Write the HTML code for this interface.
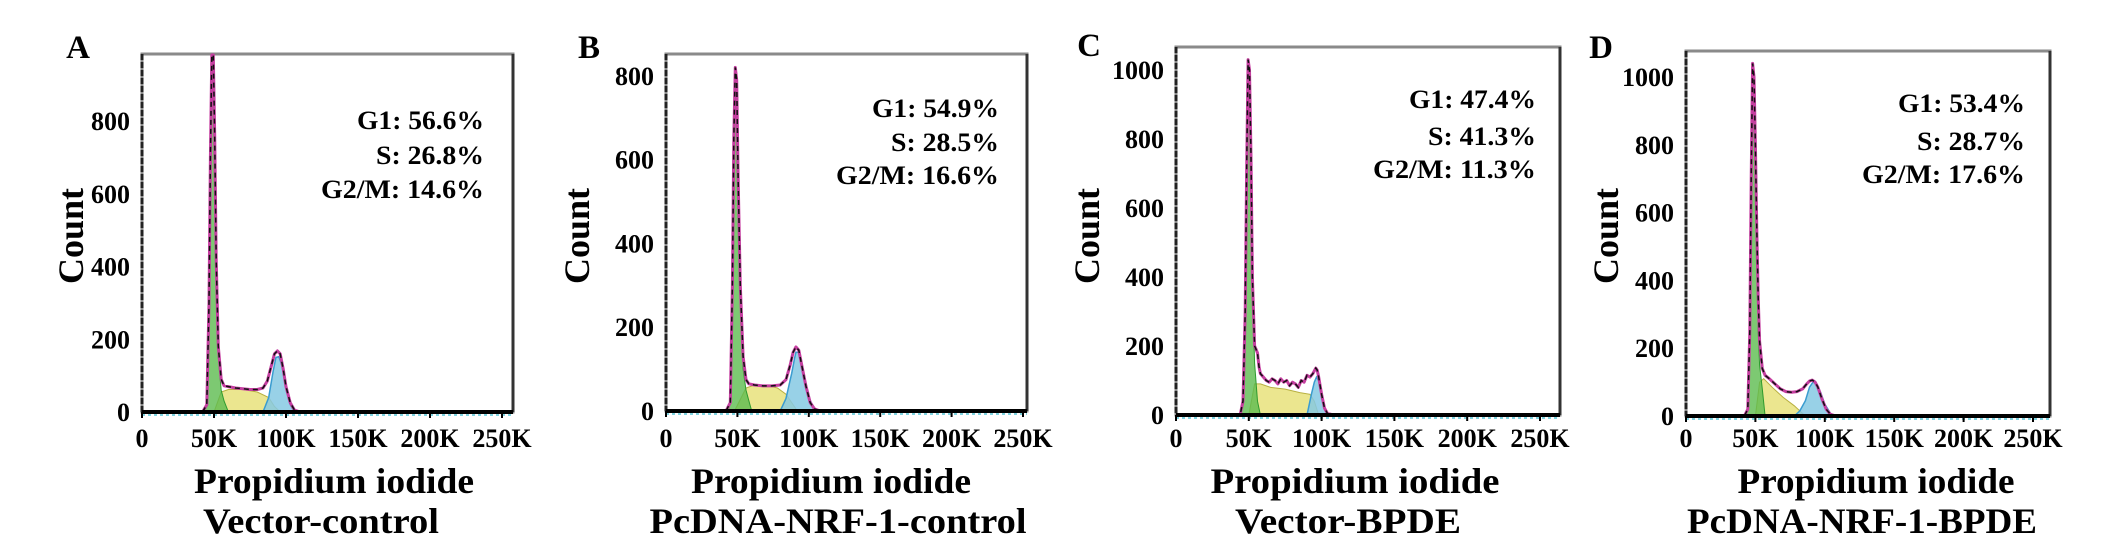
<!DOCTYPE html>
<html><head><meta charset="utf-8">
<style>
html,body{margin:0;padding:0;background:#fff;}
svg{display:block;}
text{font-family:"Liberation Serif",serif;font-weight:bold;fill:#000;}
</style></head>
<body>
<svg id="fig" width="2126" height="547" viewBox="0 0 2126 547" xmlns="http://www.w3.org/2000/svg"></svg>
<script>
// ---- data (x in K units, y = count) ----
const panelLetters = ["A","B","C","D"];
const conditions = ["Vector-control","PcDNA-NRF-1-control","Vector-BPDE","PcDNA-NRF-1-BPDE"];
const g1Pct = ["56.6%","54.9%","47.4%","53.4%"];
const sPct = ["26.8%","28.5%","41.3%","28.7%"];
const g2Pct = ["14.6%","16.6%","11.3%","17.6%"];
const xTickValues = [0,50,100,150,200,250];
const xTickLabels = ["0","50K","100K","150K","200K","250K"];
const yTicksAB = [0,200,400,600,800];
const yTicksCD = [0,200,400,600,800,1000];

const totX_A=[36,42,45,46.5,47.5,48.5,49.5,50.5,51.5,53,55,57,60,65,70,75,80,84,87,90,92,94,96,98,100,103,106,110];
const totY_A=[0,0,20,300,700,985,985,760,420,180,90,72,70,66,64,62,62,66,85,130,160,168,160,120,70,25,5,0];
const g1X_A=[42,45,46.5,47.5,48.5,49.5,50.5,51.5,53,55,57,60];
const g1Y_A=[0,20,290,680,960,900,700,380,150,60,30,0];
const sX_A=[50,55,60,70,80,88,92,96];
const sY_A=[0,55,62,62,55,40,15,0];
const g2X_A=[84,88,91,93,95,97,100,103,106];
const g2Y_A=[0,40,110,150,152,130,70,20,0];

const totX_B=[36,42,45,46.5,47.5,48.5,49.5,50.5,52,54,56,58,62,68,74,80,84,87,89,91,93,95,98,101,104,108];
const totY_B=[0,0,20,300,650,820,790,560,300,130,75,65,62,60,60,62,75,110,140,153,145,110,60,20,5,0];
const g1X_B=[42,45,46.5,47.5,48.5,49.5,50.5,52,54,56,58,60];
const g1Y_B=[0,20,290,630,800,760,530,270,100,50,25,0];
const sX_B=[48,56,62,70,78,84,88,92];
const sY_B=[0,55,62,62,55,40,20,0];
const g2X_B=[80,84,88,90,91,93,95,98,101,104,108];
const g2Y_B=[0,30,90,125,140,140,115,65,25,5,0];

const totX_C=[40,44,46,47.5,48.5,49.5,50.5,51.5,52.5,54,55,56,57,58,60,62,64,66,68,70,72,74,76,78,80,82,84,86,88,90,92,94,96,97,98,100,102,104,108];
const totY_C=[0,0,40,300,700,1030,1000,750,400,200,190,180,140,120,110,100,95,105,100,90,105,95,100,85,95,90,80,100,95,115,110,120,136,130,110,60,20,5,0];
const g1X_C=[44,46,47.5,48.5,49.5,50.5,51.5,52.5,54,56,58];
const g1Y_C=[0,30,280,680,1000,970,720,380,150,40,0];
const sX_C=[50,54,58,65,75,85,92,95,98];
const sY_C=[0,90,90,80,75,65,60,40,0];
const g2X_C=[90,93,95,96.5,98,100,102,105];
const g2Y_C=[0,60,95,110,100,60,20,0];

const totX_D=[36,42,44.5,46,47,48,49,50,51,52,53,55,57,60,64,68,72,76,80,84,87,89,91,93,95,98,101,104,108];
const totY_D=[0,0,20,250,700,1040,1000,800,550,350,220,140,120,110,95,80,72,70,72,80,95,103,106,100,85,50,20,5,0];
const g1X_D=[42,44.5,46,47,48,49,50,51,52,53,55,57];
const g1Y_D=[0,20,240,680,920,960,780,500,250,150,80,0];
const sX_D=[50,53,56,62,70,78,82,86];
const sY_D=[0,100,110,85,55,30,15,0];
const g2X_D=[78,82,86,89,91.5,94,97,100,104,108];
const g2Y_D=[0,15,45,85,100,95,70,35,8,0];

// ---- layout (geometry only) ----
const layouts = [
 {left:142,right:513,top:54,bottom:412,dx:72,dy:72.7,letterX:78,letterY:58,countX:71,annR:484,annY:[120,155,189],t1:334,t2:321,w1:280,w2:236,yt:yTicksAB},
 {left:666,right:1027,top:54,bottom:411,dx:71.4,dy:83.8,letterX:589,letterY:58,countX:577,annR:999,annY:[108,142,175],t1:831,t2:838,w1:280,w2:377,yt:yTicksAB},
 {left:1176,right:1560,top:47,bottom:415,dx:72.8,dy:69,letterX:1089,letterY:56,countX:1087,annR:1536,annY:[99,136,169],t1:1355,t2:1348,w1:289,w2:226,yt:yTicksCD},
 {left:1686,right:2050,top:51,bottom:416,dx:69.4,dy:67.8,letterX:1601,letterY:58,countX:1606,annR:2025,annY:[103,141,174],t1:1876,t2:1862,w1:277,w2:350,yt:yTicksCD}
];
const series = [
 [totX_A,totY_A,g1X_A,g1Y_A,sX_A,sY_A,g2X_A,g2Y_A],
 [totX_B,totY_B,g1X_B,g1Y_B,sX_B,sY_B,g2X_B,g2Y_B],
 [totX_C,totY_C,g1X_C,g1Y_C,sX_C,sY_C,g2X_C,g2Y_C],
 [totX_D,totY_D,g1X_D,g1Y_D,sX_D,sY_D,g2X_D,g2Y_D]
];

const NS="http://www.w3.org/2000/svg";
const svg=document.getElementById('fig');
function mk(tag,attrs,parent){const e=document.createElementNS(NS,tag);for(const k in attrs)e.setAttribute(k,attrs[k]);(parent||svg).appendChild(e);return e;}

layouts.forEach((L,i)=>{
  const g=mk('g',{});
  
  
  const sx=v=>L.left+v/50*L.dx;
  const sy=v=>Math.max(L.top+1,L.bottom-v/200*L.dy);
  const [tx,ty,ax,ay,bx,by,cx,cy]=series[i];
  const pts=(xs,ys)=>xs.map((x,j)=>sx(x).toFixed(1)+','+sy(ys[j]).toFixed(1)).join(' ');
  const area=(xs,ys)=>sx(xs[0]).toFixed(1)+','+L.bottom+' '+pts(xs,ys)+' '+sx(xs[xs.length-1]).toFixed(1)+','+L.bottom;

  // frame
  const fr=mk('rect',{x:L.left,y:L.top,width:L.right-L.left,height:L.bottom-L.top,fill:'#fff',stroke:'#8a8a8a','stroke-width':3},g);
  
  
  const rl=mk('line',{x1:L.right,y1:L.top,x2:L.right,y2:L.bottom,stroke:'#333','stroke-width':3},g);
  
  

  // fills
  const fs=mk('polygon',{points:area(bx,by),fill:'#e4dd6a','fill-opacity':0.75,stroke:'#b8b040','stroke-width':1},g);
  
  
  const fb=mk('polygon',{points:area(cx,cy),fill:'#86c9e3','fill-opacity':0.85,stroke:'#3a9cd0','stroke-width':1.5},g);
  
  
  const fg=mk('polygon',{points:area(ax,ay),fill:'#5dbb4f','fill-opacity':0.8,stroke:'#2e9a2e','stroke-width':1},g);
  
  

  // total histogram + fit
  const tl=mk('polyline',{points:pts(tx,ty),fill:'none',stroke:'#c53ea0','stroke-width':3,'stroke-linejoin':'round'},g);
  
  
  const fl=mk('polyline',{points:pts(tx,ty),fill:'none',stroke:'#111','stroke-width':1.5,'stroke-dasharray':'5,4'},g);
  
  

  // axes
  const la=mk('line',{x1:L.left,y1:L.top,x2:L.left,y2:L.bottom,stroke:'#222','stroke-width':3,'stroke-dasharray':'6,2'},g);
  
  
  const ba=mk('line',{x1:L.left,y1:L.bottom,x2:L.right,y2:L.bottom,stroke:'#000','stroke-width':4},g);
  
  
  const bc=mk('line',{x1:L.left,y1:L.bottom+3,x2:L.right,y2:L.bottom+3,stroke:'#7fd3e0','stroke-width':2,'stroke-dasharray':'3,3'},g);
  
  

  // y ticks
  L.yt.forEach(v=>{
    const t=mk('text',{x:L.left-12,y:(L.bottom-v/200*L.dy+9).toFixed(1),'font-size':26,'text-anchor':'end'},g);
    t.textContent=v;
    
    
  });
  // x ticks
  xTickValues.forEach((v,j)=>{
    const tk=mk('line',{x1:sx(v),y1:L.bottom,x2:sx(v),y2:L.bottom+6,stroke:'#000','stroke-width':2},g);
    
    
    const t=mk('text',{x:sx(v).toFixed(1),y:447,'font-size':26,'text-anchor':'middle'},g);
    t.textContent=xTickLabels[j];
    
    
  });

  // panel letter
  const pl=mk('text',{x:L.letterX,y:L.letterY,'font-size':33,'text-anchor':'middle'},g);
  pl.textContent=panelLetters[i];
  
  

  // y title
  const yt=mk('text',{x:0,y:0,'font-size':36,'text-anchor':'middle',transform:'translate('+(L.countX+12)+',236) rotate(-90)'},g);
  yt.textContent='Count';
  
  

  // x titles
  const x1=mk('text',{x:L.t1,y:493,'font-size':36,'text-anchor':'middle',textLength:L.w1,lengthAdjust:'spacingAndGlyphs'},g);
  x1.textContent='Propidium iodide';
  
  
  const x2=mk('text',{x:L.t2,y:533,'font-size':36,'text-anchor':'middle',textLength:L.w2,lengthAdjust:'spacingAndGlyphs'},g);
  x2.textContent=conditions[i];
  
  

  // annotations
  const ann=[['G1: '+g1Pct[i],127],['S: '+sPct[i],108],['G2/M: '+g2Pct[i],163]];
  ann.forEach((a,j)=>{
    const t=mk('text',{x:L.annR-a[1],y:L.annY[j]+9,'font-size':26,textLength:a[1],lengthAdjust:'spacingAndGlyphs'},g);
    t.textContent=a[0];
    
    
  });
});
</script>
</body></html>
